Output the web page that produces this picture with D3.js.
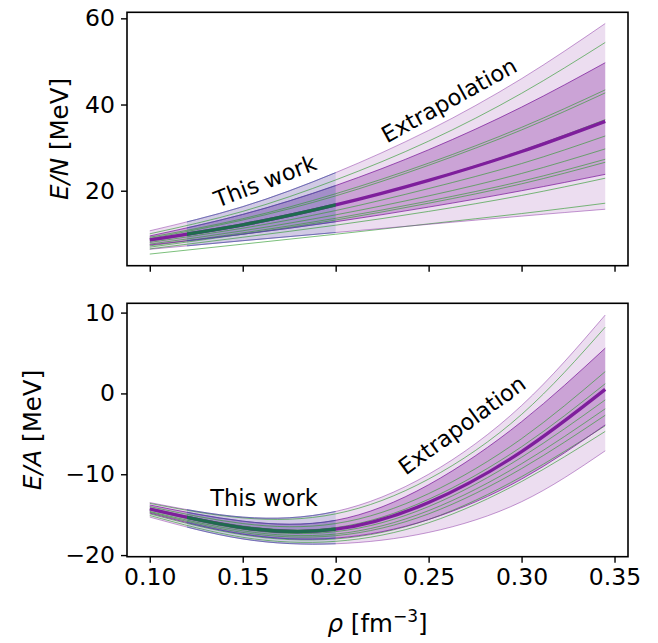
<!DOCTYPE html>
<html>
<head>
<meta charset="utf-8">
<script src="https://cdn.jsdelivr.net/npm/d3@7"></script>
<style>
  body { margin: 0; background: #fff; }
  text { font-family: "DejaVu Sans", sans-serif; }
</style>
</head>
<body>
<div class="container"></div>
<script>
// density grid the curves were read at
var rho = [0.10, 0.15, 0.20, 0.25, 0.30, 0.345];
var thisWork = [0.12, 0.20];
var xTicks = [0.10, 0.15, 0.20, 0.25, 0.30, 0.35];

// top panel, E/N
var pnmCenter  = [8.6, 12.1, 16.7, 22.4, 29.1, 36.1];
var pnmInnerHi = [9.5, 14.5, 21.2, 29.5, 39.4, 49.7];
var pnmInnerLo = [7.4, 9.9, 12.8, 16.2, 20.0, 23.8];
var pnmOuterHi = [10.7, 16.3, 24.2, 34.0, 46.0, 58.8];
var pnmOuterLo = [6.4, 8.4, 10.3, 12.2, 14.1, 15.7];
var pnmSamples = [
  [10.0, 15.2, 22.5, 31.5, 42.6, 54.4],
  [9.2, 13.5, 19.3, 26.4, 34.7, 43.4],
  [8.9, 13.2, 18.8, 25.9, 34.1, 42.7],
  [8.3, 11.9, 16.6, 22.5, 29.3, 36.5],
  [8.0, 11.3, 15.4, 20.5, 26.3, 32.7],
  [7.6, 10.7, 14.4, 18.8, 24.0, 29.7],
  [7.2, 10.2, 13.6, 17.6, 22.2, 27.3],
  [6.9, 9.9, 13.2, 17.1, 21.6, 26.6],
  [6.5, 9.2, 12.0, 15.2, 18.9, 22.9],
  [5.3, 7.6, 9.9, 12.3, 14.7, 17.1]
];
var pnmTicks = [20, 40, 60];

// bottom panel, E/A
var snmCenter  = [-14.3, -16.6, -16.8, -13.5, -7.2, 0.5];
var snmInnerHi = [-13.8, -15.8, -15.7, -11.3, -3.5, 5.6];
var snmInnerLo = [-14.8, -17.4, -17.9, -15.6, -10.6, -3.9];
var snmOuterHi = [-13.5, -15.3, -14.6, -10.0, -1.5, 9.7];
var snmOuterLo = [-15.3, -18.0, -18.6, -17.2, -13.4, -7.1];
var snmSamples = [
  [-13.6, -15.4, -14.9, -10.6, -2.6, 8.2],
  [-14.0, -16.1, -16.1, -12.4, -5.6, 2.7],
  [-14.2, -16.4, -16.6, -13.1, -6.6, 1.2],
  [-14.4, -16.8, -17.1, -14.0, -7.9, -0.8],
  [-14.6, -17.0, -17.4, -14.5, -8.7, -1.9],
  [-14.7, -17.2, -17.6, -14.9, -9.3, -2.7],
  [-14.9, -17.5, -18.0, -15.6, -10.3, -4.0],
  [-15.1, -17.8, -18.3, -16.0, -10.9, -4.7]
];
var snmTicks = [-20, -10, 0, 10];

var W = 658, H = 643;
var left = 127, right = 628;
var fs = 23.5, labelFs = 24.5;
var purple = '#7e1e9c', blue = '#3b5ba5', green = '#2e9a2e';

var svg = d3.select('.container').append('svg')
  .attr('width', W).attr('height', H);

var x = d3.scaleLinear().domain([0.08775, 0.35725]).range([left, right]);

function panel(opts) {
  var y = d3.scaleLinear().domain(opts.domain).range([opts.bottom, opts.top]);
  var g = svg.append('g');
  var clipId = 'clip' + opts.id, workId = 'work' + opts.id;

  g.append('clipPath').attr('id', clipId).append('rect')
    .attr('x', left).attr('y', opts.top)
    .attr('width', right - left).attr('height', opts.bottom - opts.top);
  g.append('clipPath').attr('id', workId).append('rect')
    .attr('x', x(thisWork[0])).attr('y', opts.top)
    .attr('width', x(thisWork[1]) - x(thisWork[0])).attr('height', opts.bottom - opts.top);

  var line = d3.line().curve(d3.curveNatural)
    .x(function(d, i) { return x(rho[i]); })
    .y(function(d) { return y(d); });
  var area = function(lo, hi) {
    return d3.area().curve(d3.curveNatural)
      .x(function(d, i) { return x(rho[i]); })
      .y0(function(d, i) { return y(lo[i]); })
      .y1(function(d, i) { return y(hi[i]); })(rho);
  };

  var plot = g.append('g').attr('clip-path', 'url(#' + clipId + ')');

  // extrapolation bands
  plot.append('path').attr('d', area(opts.outerLo, opts.outerHi))
    .attr('fill', purple).attr('fill-opacity', 0.15);
  plot.append('path').attr('d', area(opts.innerLo, opts.innerHi))
    .attr('fill', purple).attr('fill-opacity', 0.3);

  // this work region, bands
  var work = plot.append('g').attr('clip-path', 'url(#' + workId + ')');
  work.append('path').attr('d', area(opts.outerLo, opts.outerHi))
    .attr('fill', blue).attr('fill-opacity', 0.15);
  work.append('path').attr('d', area(opts.innerLo, opts.innerHi))
    .attr('fill', blue).attr('fill-opacity', 0.15);

  // individual curves
  plot.selectAll('.sample').data(opts.samples).enter()
    .append('path').attr('class', 'sample')
    .attr('d', line)
    .attr('fill', 'none').attr('stroke', green)
    .attr('stroke-opacity', 0.7).attr('stroke-width', 0.9);

  // band edges
  [opts.outerLo, opts.outerHi].forEach(function(s) {
    plot.append('path').attr('d', line(s)).attr('fill', 'none')
      .attr('stroke', purple).attr('stroke-opacity', 0.45).attr('stroke-width', 1);
  });
  [opts.innerLo, opts.innerHi].forEach(function(s) {
    plot.append('path').attr('d', line(s)).attr('fill', 'none')
      .attr('stroke', purple).attr('stroke-opacity', 0.75).attr('stroke-width', 1);
  });

  // central line
  plot.append('path').attr('d', line(opts.center)).attr('fill', 'none')
    .attr('stroke', purple).attr('stroke-width', 3.3);

  // this work region, lines on top
  var work2 = plot.append('g').attr('clip-path', 'url(#' + workId + ')');
  [opts.outerLo, opts.outerHi, opts.innerLo, opts.innerHi].forEach(function(s) {
    work2.append('path').attr('d', line(s)).attr('fill', 'none')
      .attr('stroke', blue).attr('stroke-opacity', 0.6).attr('stroke-width', 1);
  });
  work2.append('path').attr('d', line(opts.center)).attr('fill', 'none')
    .attr('stroke', '#1f6b4e').attr('stroke-width', 3.3);

  // axes
  var ax = g.append('g').attr('transform', 'translate(0,' + opts.bottom + ')')
    .call(d3.axisBottom(x).tickValues(xTicks).tickSize(6).tickPadding(6)
      .tickFormat(opts.xLabels ? d3.format('.2f') : ''));
  var ay = g.append('g').attr('transform', 'translate(' + left + ',0)')
    .call(d3.axisLeft(y).tickValues(opts.ticks).tickSize(6).tickPadding(6)
      .tickFormat(d3.format('d')));
  [ax, ay].forEach(function(a) {
    a.select('.domain').remove();
    a.selectAll('line').attr('stroke', '#000').attr('stroke-width', 1.4);
    a.selectAll('text').attr('font-size', fs).attr('fill', '#000')
      .style('font-family', '"DejaVu Sans", sans-serif');
  });

  g.append('rect').attr('x', left).attr('y', opts.top)
    .attr('width', right - left).attr('height', opts.bottom - opts.top)
    .attr('fill', 'none').attr('stroke', '#000').attr('stroke-width', 1.6);

  // y label
  var yl = g.append('text')
    .attr('transform', 'translate(' + opts.labelX + ',' + (opts.top + opts.bottom) / 2 + ') rotate(-90)')
    .attr('text-anchor', 'middle').attr('font-size', labelFs);
  yl.append('tspan').attr('font-style', 'italic').text(opts.yName);
  yl.append('tspan').text(' [MeV]');

  // annotations
  opts.notes.forEach(function(n) {
    g.append('text').attr('text-anchor', 'middle').attr('dominant-baseline', 'central')
      .attr('font-size', 22.5)
      .attr('transform', 'translate(' + n.x + ',' + n.y + ') rotate(' + n.a + ')')
      .text(n.t);
  });
  return y;
}

panel({
  id: 'top', top: 12.3, bottom: 265.7, domain: [2.6, 61.4],
  center: pnmCenter, innerLo: pnmInnerLo, innerHi: pnmInnerHi,
  outerLo: pnmOuterLo, outerHi: pnmOuterHi, samples: pnmSamples,
  ticks: pnmTicks, xLabels: false, yName: 'E/N', labelX: 68,
  notes: [
    { t: 'This work', x: 265, y: 181, a: -21 },
    { t: 'Extrapolation', x: 449, y: 100, a: -29 }
  ]
});

panel({
  id: 'bot', top: 303.3, bottom: 556.7, domain: [-20.2, 11.15],
  center: snmCenter, innerLo: snmInnerLo, innerHi: snmInnerHi,
  outerLo: snmOuterLo, outerHi: snmOuterHi, samples: snmSamples,
  ticks: snmTicks, xLabels: true, yName: 'E/A', labelX: 41,
  notes: [
    { t: 'This work', x: 264, y: 498, a: 0 },
    { t: 'Extrapolation', x: 462, y: 425, a: -36 }
  ]
});

// x label
var xl = svg.append('text').attr('x', (left + right) / 2).attr('y', 632)
  .attr('text-anchor', 'middle').attr('font-size', labelFs);
xl.append('tspan').attr('font-style', 'italic').text('ρ');
xl.append('tspan').text(' [fm');
xl.append('tspan').attr('font-size', 17).attr('dy', -10).text('−3');
xl.append('tspan').attr('dy', 10).text(']');
</script>
</body>
</html>
